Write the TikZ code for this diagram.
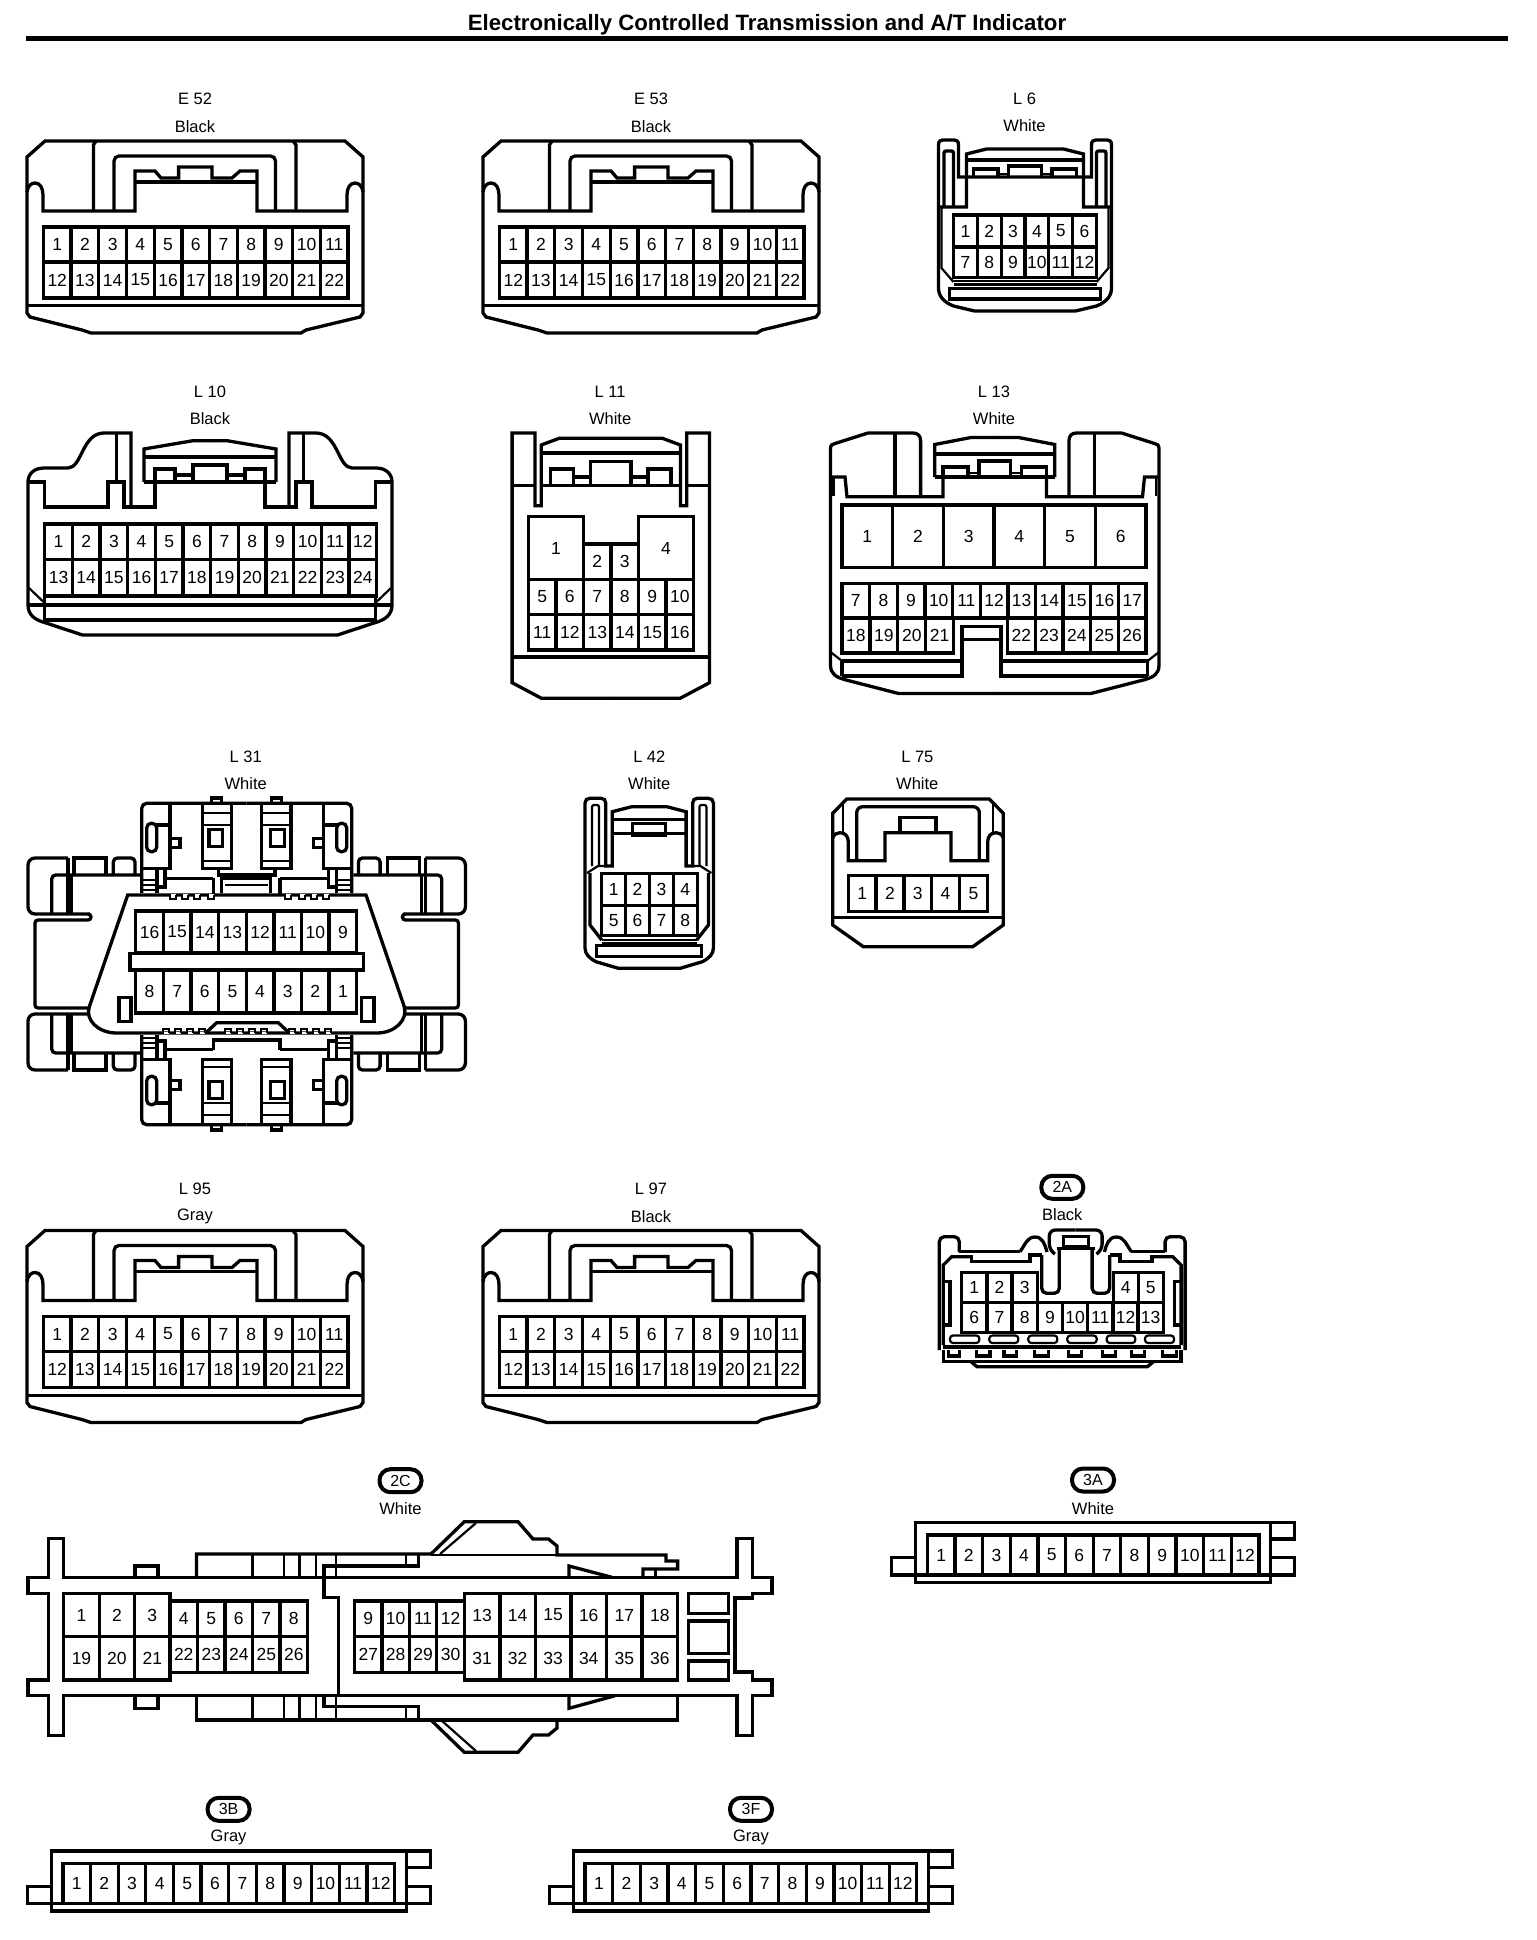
\documentclass[tikz,border=0pt]{standalone}
\usepackage{fontspec}
\setmainfont{Liberation Sans}
\tikzset{
  housing/.style={line width=3.3pt, line join=miter},
  thinline/.style={line width=2.2pt, line join=miter},
  pincell/.style={line width=3.3pt, line join=miter},
  pinnum/.style={font=\fontsize{17.5}{18}\selectfont, inner sep=0pt},
  conntext/.style={font=\fontsize{16.5}{18}\selectfont, inner sep=0pt},
  badge/.style={draw, line width=4pt, rounded corners=11pt, minimum width=42pt, minimum height=23pt, inner sep=0pt, font=\fontsize{16}{18}\selectfont},
  titletext/.style={font=\bfseries\fontsize{22.2}{24}\selectfont, inner sep=0pt}
}
\newcommand{\pinrow}[6]{%
  \foreach \n [count=\i] in {#6} {
    \pgfmathsetmacro{\xa}{#2+(\i-1)*#3}
    \pgfmathsetmacro{\xb}{#2+\i*#3}
    \pgfmathsetmacro{\xm}{(\xa+\xb)/2}
    \pgfmathsetmacro{\ym}{(#4+#5)/2}
    \draw[pincell] (\xa,#4) rectangle (\xb,#5);
    \node[pinnum] (#1\n) at (\xm,\ym) {\n};
  }%
}
\newcommand{\conntitle}[6]{%
  \node[conntext] (#1name) at (#2,#3) {#5};
  \node[conntext] (#1color) at (#2,#4) {#6};
}
\newcommand{\connbadge}[6]{%
  \node[badge] (#1name) at (#2,#3) {#5};
  \node[conntext] (#1color) at (#2,#4) {#6};
}
\newcommand{\wideconn}[1]{%
  \draw[housing] (45,141) -- (345,141) -- (363,157) -- (363,313) -- (360,317) -- (306,330) -- (301,333) -- (91,333) -- (82,330) -- (30,317) -- (27,313) -- (27,157) -- cycle;
  \draw[housing] (27,192) .. controls (28,185) and (32,183) .. (35,183) .. controls (40,183) and (43,188) .. (43,195) -- (43,211) -- (135,211) -- (135,171) -- (155,171) -- (161,178) -- (178.6,178) -- (178.6,167) -- (212,167) -- (212,178) -- (232,178) -- (240,171) -- (257,171) -- (257,211) -- (347,211) -- (347,195) .. controls (347,188) and (350,183) .. (355,183) .. controls (358,183) and (362,185) .. (363,192);
  \draw[housing] (135,182) -- (257,182);
  \draw[housing, rounded corners=5pt] (114,211) -- (114,156) -- (275.5,156) -- (275.5,211);
  \draw[housing] (93.4,211) -- (93.4,145) -- (96,141);
  \draw[housing] (296,211) -- (296,145) -- (293,141);
  \draw[housing] (27,305.7) -- (363,305.7);
  \pinrow{#1p}{43.4}{27.7}{227}{262}{1,...,11}
  \pinrow{#1p}{43.4}{27.7}{262}{298}{12,...,22}
}
\newcommand{\stripconn}[1]{%
  \draw[housing] (0,0) rectangle (355,60);
  \draw[housing] (0,52.7) -- (355,52.7);
  \draw[housing] (0,35.4) -- (-24,35.4) -- (-24,52.7) -- (0,52.7);
  \draw[housing] (355,0) -- (379,0) -- (379,16.7) -- (355,16.7);
  \draw[housing] (355,35.4) -- (379,35.4) -- (379,52.7) -- (355,52.7);
  \pinrow{#1p}{11.6}{27.64}{12.7}{52.7}{1,...,12}
}
\newcommand{\lthirtyonequarter}{%
  \draw[housing, rounded corners=7pt] (68,858) -- (28,858) -- (28,914) -- (90,914);
  \draw[housing] (68,858) -- (68,914);
  \draw[housing, rounded corners=4pt] (51.7,914) -- (51.7,875) -- (140,875);
  \draw[housing] (71.7,875) -- (71.7,914);
  \draw[housing] (74,875) -- (74,858) -- (106,858) -- (106,875);
  \draw[housing, rounded corners=4pt] (113.3,875) -- (113.3,858) -- (135,858) -- (135,875);
  \draw[housing, rounded corners=5pt] (141.7,893) -- (141.7,803.3) -- (246.7,803.3);
  \draw[housing] (211.7,803.3) -- (211.7,798) -- (221.7,798) -- (221.7,803.3);
  \draw[housing] (170,803.3) -- (170,868.3) -- (141.7,868.3);
  \draw[housing] (156,825) -- (170,825);
  \draw[housing, rounded corners=4.5pt] (146.7,823.3) rectangle (156.7,851.7);
  \draw[housing] (170,838.3) -- (180,838.3) -- (180,847.7) -- (170,847.7);
  \draw[housing] (202.3,803.3) -- (202.3,868.3) -- (231.7,868.3) -- (231.7,803.3);
  \draw[thinline] (204,813) -- (230,813);
  \draw[thinline] (204,825) -- (230,825);
  \draw[thinline] (204,861) -- (230,861);
  \draw[housing] (209,829.3) rectangle (222.7,846.7);
  \draw[housing] (157,868.3) -- (157,893);
  \draw[housing] (165,868.3) -- (165,887) -- (157,887);
  \draw[housing] (165,878.3) -- (213.3,878.3);
  \foreach \hy in {880,885,890} {
    \draw[line width=2pt] (143,\hy) -- (157,\hy);
  }
}
\begin{document}
\begin{tikzpicture}[x=1pt, y=-1pt]
  \path[use as bounding box, fill=white] (0,0) rectangle (1536,1940);
  \node[titletext] (title) at (767,24.5) {Electronically Controlled Transmission and A/T Indicator};
  \coordinate (ruleleft) at (25.5,38.5);
  \coordinate (ruleright) at (1508,38.5);
  \draw[line width=5pt] (ruleleft) -- (ruleright);

  \conntitle{e52}{195}{99}{127}{E 52}{Black}
  \wideconn{e52}
  \begin{scope}[shift={(456,0)}]
    \conntitle{e53}{195}{99}{127}{E 53}{Black}
    \wideconn{e53}
  \end{scope}
  \begin{scope}[shift={(0,1089.5)}]
    \conntitle{l95}{195}{99}{127}{L 95}{Gray}
    \wideconn{l95}
  \end{scope}
  \begin{scope}[shift={(456,1089.5)}]
    \conntitle{l97}{195}{99}{127}{L 97}{Black}
    \wideconn{l97}
  \end{scope}

  \begin{scope}[shift={(-1.5,0)}]
    \conntitle{l6}{1026}{99}{126}{L 6}{White}
    \foreach \mx/\ox in {1/0,-1/2053} {
      \begin{scope}[shift={(\ox,0)},xscale=\mx]
        \draw[housing] (1026.5,311) -- (976,311) -- (955,306) .. controls (945,302) and (940,296) .. (940,288) -- (940,145) .. controls (940,141) and (942,140) .. (944,140) -- (956,140) .. controls (958,140) and (960,141) .. (960,145) -- (960,177) -- (1026.5,177);
        \draw[housing] (940,207) -- (968,207) -- (968,154) -- (988,149) -- (1026.5,149);
        \draw[housing, rounded corners=2pt] (945.5,207) -- (945.5,151) -- (955,151) -- (955,207);
        \draw[housing] (968,160) -- (1026.5,160);
        \draw[housing] (1026.5,166) -- (1010,166) -- (1010,177);
        \draw[housing] (975,177) -- (975,169) -- (999.5,169) -- (999.5,177);
        \draw[thinline] (999.5,174) -- (1010,174);
        \draw[thinline] (943,207) -- (943,268) -- (955,282);
        \draw[thinline] (955,281) -- (1026.5,281);
        \draw[thinline] (955,284.5) -- (1026.5,284.5);
        \draw[housing] (1026.5,288.5) -- (951,288.5) -- (951,299) -- (1026.5,299);
      \end{scope}
    }
    \pinrow{l6p}{955}{23.83}{215}{247}{1,...,6}
    \pinrow{l6p}{955}{23.83}{247}{277.5}{7,...,12}
  \end{scope}

  \conntitle{l10}{210}{392}{419}{L 10}{Black}
  \foreach \mx/\ox in {1/0,-1/420} {
    \begin{scope}[shift={(\ox,0)},xscale=\mx]
      \draw[housing] (210,635) -- (82.5,635) -- (46,623) .. controls (35,620) and (28,615) .. (28,605) -- (28,482) .. controls (28,474) and (34,468) .. (44,468) -- (68,468) .. controls (82,468) and (82,433) .. (104,433) -- (131,433) -- (131,507);
      \draw[housing] (28,482) -- (44.7,482) -- (44.7,507) -- (108,507) -- (108,482) -- (124,482) -- (124,507) -- (155,507) -- (155,482);
      \draw[housing] (116.5,433) -- (116.5,482);
      \draw[housing] (144,482) -- (144,449) -- (193,440.7) -- (210,440.7);
      \draw[housing] (144,482) -- (210,482);
      \draw[housing] (144,457) -- (210,457);
      \draw[housing] (155,482) -- (155,469) -- (175,469) -- (175,482);
      \draw[housing] (175,475) -- (193,475);
      \draw[housing] (210,465) -- (193,465) -- (193,482);
      \draw[housing] (28,605) -- (210,605);
      \draw[housing] (44.7,596) -- (44.7,620) -- (210,620);
      \draw[thinline] (29,588) -- (44.7,603);
    \end{scope}
  }
  \pinrow{l10p}{44.7}{27.67}{524}{559.5}{1,...,12}
  \pinrow{l10p}{44.7}{27.67}{559.5}{596}{13,...,24}

  \begin{scope}[shift={(-1.5,0)}]
    \conntitle{l11}{611.6}{392}{419}{L 11}{White}
    \foreach \mx/\ox in {1/0,-1/1224.6} {
      \begin{scope}[shift={(\ox,0)},xscale=\mx]
        \draw[housing] (612.3,698.3) -- (543,698.3) -- (513.6,682.7) -- (513.6,433) -- (536.4,433) -- (536.4,505.7) -- (542.7,505.7) -- (542.7,445) -- (560.7,438.3) -- (612.3,438.3);
        \draw[housing] (513.6,485.7) -- (536.4,485.7);
        \draw[housing] (542.7,485.7) -- (612.3,485.7);
        \draw[housing] (542.7,453) -- (612.3,453);
        \draw[housing] (612.3,461.7) -- (592,461.7) -- (592,485.7);
        \draw[housing] (552,485.7) -- (552,469) -- (575,469) -- (575,485.7);
        \draw[housing] (575,477) -- (592,477);
        \draw[housing] (513.6,657) -- (612.3,657);
      \end{scope}
    }
    \pinrow{l11p}{530}{55}{516.7}{579.3}{1}
    \pinrow{l11p}{585}{27.5}{544}{579.3}{2,3}
    \pinrow{l11p}{640}{55}{516.7}{579.3}{4}
    \pinrow{l11p}{530}{27.5}{579.3}{614.3}{5,...,10}
    \pinrow{l11p}{530}{27.5}{614.3}{650}{11,...,16}
  \end{scope}

  \conntitle{l13}{994}{391.5}{419}{L 13}{White}
  \foreach \mx/\ox in {1/0,-1/1989.5} {
    \begin{scope}[shift={(\ox,0)},xscale=\mx]
      \draw[housing] (994.75,693.5) -- (898.6,693.5) -- (844.6,679.6) .. controls (836,677) and (830.5,674) .. (830.5,665) -- (830.5,449) .. controls (830.5,445) and (832,444) .. (835,443.5) -- (868,433) -- (913,433) .. controls (918,433) and (920.6,436) .. (920.6,441) -- (920.6,496.7);
      \draw[housing] (895,433) -- (895,496.7);
      \draw[housing] (830.5,477) -- (845,477) -- (847,496.7) -- (943,496.7) -- (943,477);
      \draw[thinline] (833.5,477) -- (833.5,496);
      \draw[housing] (934.7,477) -- (934.7,444.5) -- (971,437.5) -- (994.75,437.5);
      \draw[housing] (934.7,477) -- (994.75,477);
      \draw[housing] (934.7,454) -- (994.75,454);
      \draw[housing] (994.75,461) -- (979,461) -- (979,477);
      \draw[housing] (943,477) -- (943,467) -- (968,467) -- (968,477);
      \draw[thinline] (968,473) -- (979,473);
      \draw[thinline] (830.5,652) -- (842,661);
      \draw[housing] (842,676) -- (842,661) -- (900,661);
      \draw[housing] (842,676) -- (900,676);
    \end{scope}
  }
  \draw[housing] (900,661) -- (962,661);
  \draw[housing] (900,676) -- (962,676) -- (962,626.5) -- (1001,626.5) -- (1001,676) -- (1090,676);
  \draw[housing] (1001,661) -- (1090,661);
  \draw[housing] (962,639.6) -- (1001,639.6);
  \pinrow{l13p}{842}{50.67}{505}{567.3}{1,...,6}
  \pinrow{l13p}{842}{27.64}{583.7}{618}{7,...,17}
  \pinrow{l13p}{842}{27.9}{618}{653}{18,...,21}
  \pinrow{l13p}{1007.5}{27.7}{618}{653}{22,...,26}

  \conntitle{l31}{245.7}{756.7}{783.3}{L 31}{White}
  \foreach \mx/\ox/\my/\oy in {1/0/1/0,-1/493.4/1/0,1/0/-1/1928,-1/493.4/-1/1928} {
    \begin{scope}[shift={(\ox,\oy)},xscale=\mx,yscale=\my]
      \lthirtyonequarter
    \end{scope}
  }
  \foreach \mx/\ox in {1/0,-1/493.4} {
    \begin{scope}[shift={(\ox,0)},xscale=\mx]
      \draw[housing, rounded corners=3pt] (88,914) -- (91,914) -- (91,920) -- (35,920) -- (35,1008) -- (89,1008);
      \draw[housing] (213.3,878.3) -- (213.3,895);
      \draw[housing] (218.3,868.3) -- (218.3,875) -- (246.7,875);
    \end{scope}
  }
  \draw[housing] (221.7,893) -- (221.7,878.3) -- (270.7,878.3) -- (270.7,893);
  \draw[thinline] (225,885) -- (268,885);
  \draw[housing] (213.3,1049.7) -- (213.3,1040) -- (280,1040) -- (280,1049.7);
  \draw[housing, fill=white] (127.7,895) -- (366,895) -- (404.3,1006.7) .. controls (408,1020) and (395,1033) .. (376.7,1033) -- (116.7,1033) .. controls (98,1033) and (85,1020) .. (89.3,1006.7) -- cycle;
  \foreach \cx in {170,182,194,208,285,299,311,323} {
    \fill[white] (\cx+0.5,894) rectangle (\cx+5.5,896.5);
    \draw[thinline] (\cx,895) -- (\cx,899) -- (\cx+6,899) -- (\cx+6,895);
  }
  \foreach \cx in {163,175,187,199,225,237,249,261,289,301,313,325} {
    \fill[white] (\cx+0.5,1034) rectangle (\cx+5.5,1031.5);
    \draw[thinline] (\cx,1033) -- (\cx,1029) -- (\cx+6,1029) -- (\cx+6,1033);
  }
  \draw[housing] (206.7,1032) -- (216.7,1022.7) -- (278.3,1022.7) -- (288.3,1032);
  \pinrow{l31p}{135.7}{27.63}{911}{953}{16,15,14,13,12,11,10,9}
  \pinrow{l31p}{135.7}{27.63}{970}{1013}{8,7,6,5,4,3,2,1}
  \draw[housing, fill=white] (130,953.3) rectangle (363.3,970);
  \draw[housing] (119,997.3) rectangle (131,1021.7);
  \draw[housing] (361.7,997.3) rectangle (374,1021.7);

  \conntitle{l42}{649.3}{756.7}{783.3}{L 42}{White}
  \foreach \mx/\ox in {1/0,-1/1298.4} {
    \begin{scope}[shift={(\ox,0)},xscale=\mx]
      \draw[housing] (649.2,968.3) -- (618.3,968.3) -- (596,961.7) .. controls (589,958) and (585,954) .. (585,948) -- (585,803) .. controls (585,800) and (587,798.3) .. (590,798.3) -- (601,798.3) .. controls (604,798.3) and (605.7,800) .. (605.7,803) -- (605.7,866) -- (612.3,866) -- (612.3,811.7) -- (631.7,806.7) -- (649.2,806.7);
      \draw[thinline, rounded corners=2pt] (592,866) -- (592,805) -- (599,805) -- (599,866);
      \draw[thinline] (587,873) -- (598,866) -- (605.7,866);
      \draw[housing] (590,873) -- (590,925) -- (601.7,940);
      \draw[housing] (612.3,819.3) -- (649.2,819.3);
      \draw[housing] (612.3,833.3) -- (649.2,833.3);
      \draw[housing] (649.2,823.3) -- (632.7,823.3) -- (632.7,835) -- (649.2,835);
      \draw[line width=2pt] (601.7,939.5) -- (649.2,939.5);
      \draw[line width=2pt] (601.7,942.7) -- (649.2,942.7);
      \draw[housing] (649.2,945.5) -- (596.7,945.5) -- (596.7,956.7) -- (649.2,956.7);
    \end{scope}
  }
  \pinrow{l42p}{601.7}{23.9}{873.3}{905.7}{1,...,4}
  \pinrow{l42p}{601.7}{23.9}{905.7}{935.7}{5,...,8}

  \conntitle{l75}{917.3}{756.7}{783.3}{L 75}{White}
  \foreach \mx/\ox in {1/0,-1/1836} {
    \begin{scope}[shift={(\ox,0)},xscale=\mx]
      \draw[housing] (918,799) -- (846.7,799) -- (832.7,813.3) -- (832.7,925) -- (863.3,946.7) -- (918,946.7);
      \draw[housing] (832.7,917.7) -- (918,917.7);
      \draw[housing] (832.7,838) .. controls (834,834) and (837,832.7) .. (840,832.7) .. controls (845,832.7) and (848.3,836) .. (848.3,842) -- (848.3,860.7) -- (885,860.7) -- (885,832.7) -- (918,832.7);
      \draw[housing, rounded corners=6pt] (856.7,860.7) -- (856.7,806.7) -- (918,806.7);
      \draw[thinline] (842.7,803) -- (842.7,832.7);
      \draw[housing] (918,817.3) -- (900,817.3) -- (900,832.7);
    \end{scope}
  }
  \pinrow{l75p}{848.3}{27.8}{875.7}{911.7}{1,...,5}

  \connbadge{2a}{1062.3}{1187.3}{1215}{2A}{Black}
  \foreach \mx/\ox in {1/0,-1/2124.4} {
    \begin{scope}[shift={(\ox,0)},xscale=\mx]
      \draw[housing, rounded corners=5pt] (959.3,1252) -- (959.3,1236.7) -- (939.3,1236.7) -- (939.3,1350);
      \draw[housing] (943.3,1345) -- (943.3,1265) -- (951.7,1256.7) -- (971.7,1256.7);
      \draw[housing] (941.7,1281.7) -- (950,1281.7) -- (950,1325) -- (941.7,1325);
      \draw[housing] (943.3,1347) -- (1062.2,1347);
      \draw[housing] (943.3,1350) -- (943.3,1361.7) -- (1062.2,1361.7);
      \draw[housing] (971,1361.7) -- (977,1366.7) -- (1062.2,1366.7);
    \end{scope}
  }
  \foreach \mx/\ox in {1/0,-1/2151.4} {
    \begin{scope}[shift={(\ox,0)},xscale=\mx]
      \draw[housing] (1020,1251.7) .. controls (1025,1245) and (1027,1237) .. (1035,1237) .. controls (1043,1237) and (1045,1245) .. (1047,1252);
      \draw[housing, rounded corners=5pt] (1041.7,1255) -- (1041.7,1293.3) -- (1059.3,1293.3) -- (1059.3,1249);
      \draw[housing, rounded corners=6pt] (1055,1254) -- (1049.3,1250) -- (1049.3,1230) -- (1075.7,1230);
      \draw[housing] (1056.7,1248.3) -- (1075.7,1248.3);
    \end{scope}
  }
  \draw[housing] (959.3,1251.7) -- (1020,1251.7);
  \draw[housing] (1131.4,1251.7) -- (1165.1,1251.7);
  \draw[housing] (971.7,1255) -- (971.7,1261.7) -- (1030,1261.7) -- (1030,1255) -- (1041.7,1255);
  \draw[housing] (1152,1255) -- (1152,1261.7) -- (1120,1261.7) -- (1120,1255) -- (1109.7,1255);
  \draw[housing] (1063.3,1236.7) rectangle (1088.3,1246.7);
  \foreach \ta/\tb in {950/979.3,989.3/1018.3,1028.3/1057.3,1067.3/1096.7,1106.7/1135.3,1145/1174} {
    \draw[thinline, rounded corners=3pt] (\ta,1335.5) rectangle (\tb,1343);
  }
  \foreach \ta/\tb in {948.3/959.3,976.7/990,1004/1016.7,1034.3/1048.3,1068.3/1081.7,1102.3/1115.7,1131.7/1144.3,1162.7/1176.7} {
    \draw[housing] (\ta,1350) -- (\ta,1356) -- (\tb,1356) -- (\tb,1350);
  }
  \pinrow{2ap}{961.7}{25.2}{1272.7}{1302.3}{1,2,3}
  \pinrow{2ap}{1113.3}{25}{1272.7}{1302.3}{4,5}
  \pinrow{2ap}{961.7}{25.2}{1302.3}{1332.7}{6,...,13}

  \connbadge{2c}{400.5}{1480.7}{1508.3}{2C}{White}
  \draw[housing] (48.5,1538.3) -- (63.8,1538.3) -- (63.8,1577.3) -- (737,1577.3) -- (737,1538.3) -- (752.6,1538.3) -- (752.6,1577.3) -- (772,1577.3) -- (772,1593.3) -- (752.6,1593.3) -- (752.6,1598) -- (735,1598) -- (735,1672) -- (752.6,1672) -- (752.6,1680) -- (772,1680) -- (772,1695.7) -- (752.6,1695.7) -- (752.6,1735.7) -- (737,1735.7) -- (737,1695.7) -- (63.8,1695.7) -- (63.8,1735.7) -- (48.5,1735.7) -- (48.5,1695.7) -- (28,1695.7) -- (28,1680) -- (48.5,1680) -- (48.5,1593.3) -- (28,1593.3) -- (28,1577.3) -- (48.5,1577.3) -- cycle;
  \draw[housing] (135,1577.3) -- (135,1566) -- (158,1566) -- (158,1577.3);
  \draw[housing] (135,1695.7) -- (135,1708.3) -- (158,1708.3) -- (158,1695.7);
  \draw[housing] (196.4,1577.3) -- (196.4,1554) -- (431,1554) -- (464.3,1521.7) -- (518,1521.7) -- (533,1539) -- (548.5,1539) -- (557,1546) -- (557,1555) -- (666,1555) -- (666,1561) -- (677.6,1561) -- (677.6,1569) -- (642.9,1569) -- (642.9,1577.3);
  \draw[thinline] (431,1555) -- (666,1555);
  \draw[housing] (655.6,1569) -- (655.6,1577.3);
  \draw[thinline] (440,1554) -- (476,1523);
  \draw[housing] (324,1577.3) -- (324,1566) -- (418.4,1566) -- (418.4,1554);
  \draw[housing] (324,1577.3) -- (324,1597.7) -- (338.3,1597.7) -- (338.3,1695.7);
  \draw[housing] (324,1695.7) -- (324,1706.7) -- (418.4,1706.7) -- (418.4,1720);
  \draw[thinline] (405.6,1554) -- (405.6,1566);
  \draw[thinline] (405.6,1706.7) -- (405.6,1720);
  \foreach \vx in {252.5,284,299.5,316,335.7} {
    \draw[thinline] (\vx,1554) -- (\vx,1577.3);
    \draw[thinline] (\vx,1695.7) -- (\vx,1720);
  }
  \draw[housing] (196.4,1695.7) -- (196.4,1720) -- (677.6,1720) -- (677.6,1695.7);
  \draw[housing] (431,1720) -- (464.3,1752.3) -- (518,1752.3) -- (533,1735) -- (548.5,1735) -- (557,1728) -- (557,1720);
  \draw[thinline] (441,1720) -- (476,1751);
  \draw[housing] (569,1577.3) -- (569,1566) -- (612,1577.3);
  \draw[housing] (569,1695.7) -- (569,1708.3) -- (615,1695.7);
  \pinrow{2cp}{63.8}{35.4}{1593.3}{1636.7}{1,2,3}
  \pinrow{2cp}{63.8}{35.4}{1636.7}{1680}{19,20,21}
  \pinrow{2cp}{170}{27.5}{1601}{1636.7}{4,...,8}
  \pinrow{2cp}{170}{27.5}{1636.7}{1672.3}{22,...,26}
  \pinrow{2cp}{354.6}{27.4}{1601}{1636.7}{9,...,12}
  \pinrow{2cp}{354.6}{27.4}{1636.7}{1672.3}{27,...,30}
  \pinrow{2cp}{464.3}{35.55}{1593.3}{1636.7}{13,...,18}
  \pinrow{2cp}{464.3}{35.55}{1636.7}{1680}{31,...,36}
  \draw[housing] (688.8,1593.3) rectangle (728.6,1613.3);
  \draw[housing] (688.8,1621) rectangle (728.6,1653.3);
  \draw[housing] (688.8,1661) rectangle (728.6,1680);

  \connbadge{3a}{1093}{1480}{1508.3}{3A}{White}
  \begin{scope}[shift={(915.7,1522.3)}]
    \stripconn{3a}
  \end{scope}
  \connbadge{3b}{228.6}{1809.3}{1837}{3B}{Gray}
  \begin{scope}[shift={(51.3,1851)}]
    \stripconn{3b}
  \end{scope}
  \connbadge{3f}{751}{1809.3}{1837}{3F}{Gray}
  \begin{scope}[shift={(573.5,1851)}]
    \stripconn{3f}
  \end{scope}
\end{tikzpicture}
\end{document}
